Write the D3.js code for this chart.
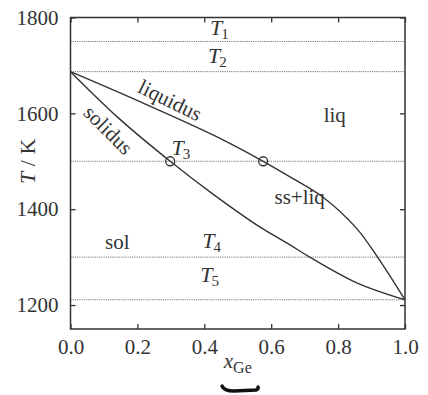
<!DOCTYPE html>
<html>
<head>
<meta charset="utf-8">
<script src="https://cdn.jsdelivr.net/npm/d3@7"></script>
<style>
  body { margin: 0; background: #fff; }
</style>
</head>
<body>
<div id="chart"></div>
<script>
// phase diagram data (Si-Ge)
const liquidus = [[0, 1687], [0.209, 1624], [0.429, 1554], [0.576, 1500], [0.655, 1468],
    [0.755, 1425], [0.854, 1361], [0.918, 1300], [1, 1211]];
const solidus = [[0, 1687], [0.144, 1590], [0.298, 1500], [0.429, 1430], [0.566, 1363],
    [0.655, 1326], [0.715, 1300], [0.854, 1247], [1, 1211]];
const isotherms = [1750, 1687, 1500, 1300, 1211];
const tieMarks = [[0.298, 1500], [0.576, 1500]];
const xTicks = [0, 0.2, 0.4, 0.6, 0.8, 1.0];
const yTicks = [1200, 1400, 1600, 1800];

const SERIF = '"Liberation Serif", "DejaVu Serif", serif';
const INK = '#333';

const W = 428, H = 395;
const margin = { top: 17.5, right: 23, bottom: 66, left: 70.5 };
const width = W - margin.left - margin.right;
const height = H - margin.top - margin.bottom;

const svg = d3.select('#chart').append('svg')
    .attr('width', W).attr('height', H)
    .attr('font-family', SERIF);
const g = svg.append('g')
    .attr('transform', `translate(${margin.left},${margin.top})`);

const x = d3.scaleLinear().domain([0, 1]).range([0, width]);
const y = d3.scaleLinear().domain([1150, 1800]).range([height, 0]);

// dotted isotherms
g.selectAll('.iso').data(isotherms).enter().append('line')
    .attr('x1', 0).attr('x2', width)
    .attr('y1', d => y(d)).attr('y2', d => y(d))
    .attr('stroke', '#777').attr('stroke-width', 1)
    .attr('stroke-dasharray', '1.2,1');

// curves
const line = d3.line().x(d => x(d[0])).y(d => y(d[1])).curve(d3.curveCatmullRom.alpha(0.5));
[liquidus, solidus].forEach(pts => {
    g.append('path').datum(pts)
        .attr('d', line)
        .attr('fill', 'none')
        .attr('stroke', INK)
        .attr('stroke-width', 1.4);
});

g.selectAll('.mark').data(tieMarks).enter().append('circle')
    .attr('cx', d => x(d[0])).attr('cy', d => y(d[1]))
    .attr('r', 4.5)
    .attr('fill', 'none').attr('stroke', INK).attr('stroke-width', 1.3);

// axes: ticks pointing inward on all four sides
const axB = g.append('g').attr('transform', `translate(0,${height})`)
    .call(d3.axisBottom(x).tickValues(xTicks).tickSize(-5).tickPadding(10).tickFormat(d3.format('.1f')));
const axT = g.append('g')
    .call(d3.axisTop(x).tickValues(xTicks).tickSize(-5).tickFormat(''));
const axL = g.append('g')
    .call(d3.axisLeft(y).tickValues(yTicks).tickSize(-5).tickPadding(12).tickFormat(d3.format('d')));
const axR = g.append('g').attr('transform', `translate(${width},0)`)
    .call(d3.axisRight(y).tickValues(yTicks).tickSize(-5).tickFormat(''));
[axB, axT, axL, axR].forEach(a => {
    a.attr('font-family', SERIF).attr('font-size', 21);
    a.select('.domain').remove();
    a.selectAll('line').attr('stroke', INK).attr('stroke-width', 1.3);
    a.selectAll('text').attr('fill', INK);
});

g.append('rect')
    .attr('width', width).attr('height', height)
    .attr('fill', 'none').attr('stroke', INK).attr('stroke-width', 1.5);

// labels
function tLabel(vx, vy, sub) {
    const t = g.append('text').attr('x', x(vx)).attr('y', y(vy))
        .attr('font-size', 22).attr('fill', INK);
    t.append('tspan').attr('font-style', 'italic').text('T');
    t.append('tspan').attr('dy', 4).attr('dx', -1).attr('font-size', 15).text(sub);
}
tLabel(0.417, 1763, '1');
tLabel(0.411, 1705, '2');
tLabel(0.302, 1513, '3');
tLabel(0.394, 1319, '4');
tLabel(0.388, 1248, '5');

function plain(vx, vy, txt, rot) {
    g.append('text')
        .attr('transform', `translate(${x(vx)},${y(vy)}) rotate(${rot || 0})`)
        .attr('text-anchor', 'middle')
        .attr('font-size', 21).attr('fill', INK)
        .text(txt);
}
plain(0.288, 1614, 'liquidus', 26);
plain(0.098, 1555, 'solidus', 45);
plain(0.79, 1582, 'liq');
plain(0.685, 1410, 'ss+liq');
plain(0.14, 1316, 'sol');

// axis titles
const yt = svg.append('text')
    .attr('transform', `translate(35,${margin.top + y(1500)}) rotate(-90)`)
    .attr('text-anchor', 'middle').attr('font-size', 22).attr('fill', INK);
yt.append('tspan').attr('font-style', 'italic').text('T');
yt.append('tspan').text(' / K');

const xt = svg.append('text')
    .attr('x', margin.left + x(0.5)).attr('y', 368)
    .attr('text-anchor', 'middle').attr('font-size', 21).attr('fill', INK);
xt.append('tspan').attr('font-style', 'italic').text('x');
xt.append('tspan').attr('dy', 5).attr('font-size', 16).text('Ge');

// brush mark under the x label
svg.append('path')
    .attr('d', 'M222,386 Q224,391 234,391 L256,390 Q259,389 258,387')
    .attr('fill', 'none').attr('stroke', '#111').attr('stroke-width', 3.5)
    .attr('stroke-linecap', 'round');
</script>
</body>
</html>
